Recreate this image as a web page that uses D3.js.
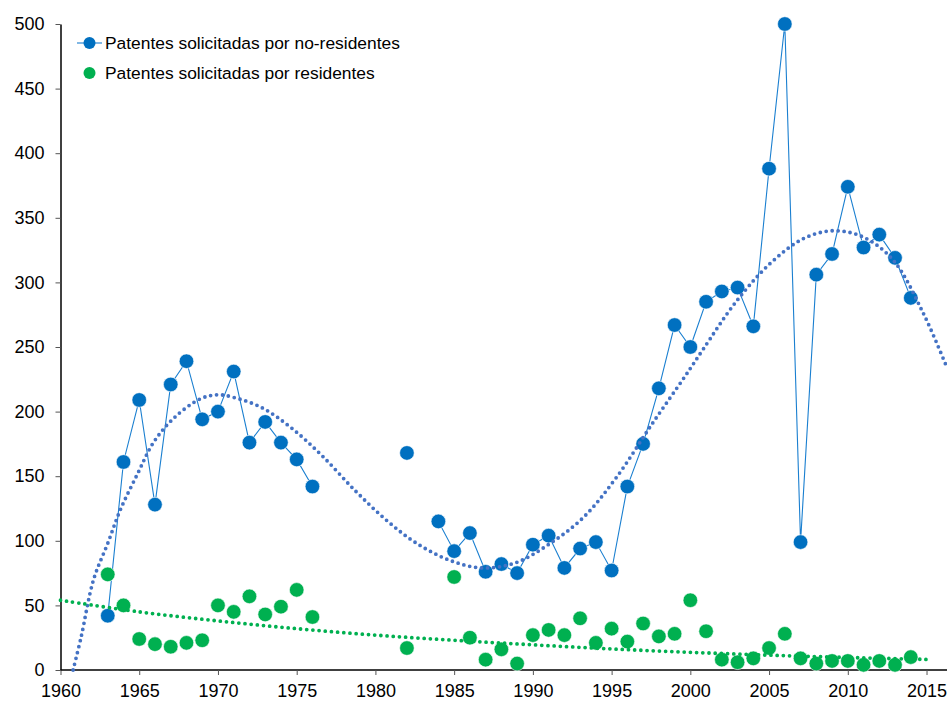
<!DOCTYPE html>
<html>
<head>
<meta charset="utf-8">
<script src="https://cdn.jsdelivr.net/npm/d3@7"></script>
<style>
  body { margin: 0; background: #fff; }
  svg { display: block; font-family: "Liberation Sans", Arial, sans-serif; }
</style>
</head>
<body>
<div id="chart"></div>
<script>
// Data
const years = [1963, 1964, 1965, 1966, 1967, 1968, 1969, 1970, 1971, 1972, 1973, 1974, 1975, 1976,
  1982, 1984, 1985, 1986, 1987, 1988, 1989, 1990, 1991, 1992, 1993, 1994, 1995, 1996, 1997, 1998, 1999,
  2000, 2001, 2002, 2003, 2004, 2005, 2006, 2007, 2008, 2009, 2010, 2011, 2012, 2013, 2014];
const noResidentes = [42, 161, 209, 128, 221, 239, 194, 200, 231, 176, 192, 176, 163, 142,
  168, 115, 92, 106, 76, 82, 75, 97, 104, 79, 94, 99, 77, 142, 175, 218, 267,
  250, 285, 293, 296, 266, 388, 500, 99, 306, 322, 374, 327, 337, 319, 288];

const yearsRes = [1963, 1964, 1965, 1966, 1967, 1968, 1969, 1970, 1971, 1972, 1973, 1974, 1975, 1976,
  1982, 1985, 1986, 1987, 1988, 1989, 1990, 1991, 1992, 1993, 1994, 1995, 1996, 1997, 1998, 1999,
  2000, 2001, 2002, 2003, 2004, 2005, 2006, 2007, 2008, 2009, 2010, 2011, 2012, 2013, 2014];
const residentes = [74, 50, 24, 20, 18, 21, 23, 50, 45, 57, 43, 49, 62, 41,
  17, 72, 25, 8, 16, 5, 27, 31, 27, 40, 21, 32, 22, 36, 26, 28,
  54, 30, 8, 6, 9, 17, 28, 9, 5, 7, 7, 4, 7, 4, 10];

// trend lines
const trendNoResX = [1960.8, 1961.3, 1962.1, 1963.0, 1963.8, 1964.9, 1965.9, 1967.2, 1968.9, 1970, 1971, 1972.8,
  1974.7, 1976.6, 1978.7, 1980.6, 1982.5, 1984.7, 1986.8, 1988.9, 1991.1, 1993.2, 1995.3, 1997.6,
  1999.7, 2000.8, 2002.9, 2005.1, 2007.2, 2009.1, 2011, 2012.9, 2014.8, 2016.3];
const trendNoResY = [0, 25, 70, 98, 124, 152, 176, 195, 210, 213, 211, 203,
  187, 166, 139, 117, 99, 85, 79, 83, 98, 118, 149, 191,
  228, 248, 285, 315, 334, 340, 335, 317, 276, 234];
const trendResX = [1960, 1965, 1970, 1975, 1980, 1985, 1990, 1995, 2000, 2005, 2010, 2015];
const trendResY = [54, 45, 38, 32, 27, 23, 19.5, 16.3, 13.7, 11.5, 9.7, 8.2];

const xTicks = d3.range(1960, 2016, 5);
const yTicks = d3.range(0, 501, 50);

const seriesNames = ["Patentes solicitadas por no-residentes", "Patentes solicitadas por residentes"];
const blue = "#0070c0", green = "#00b050", trendBlue = "#4472c4";

const width = 947, height = 702;

const svg = d3.select("#chart").append("svg")
  .attr("width", width)
  .attr("height", height);

const x = d3.scaleLinear().domain([1960, 2016.3]).range([60.5, 947]);
const y = d3.scaleLinear().domain([0, 500]).range([670, 24]);

// Axes
const gx = svg.append("g")
  .attr("transform", `translate(0,${y(0)})`)
  .call(d3.axisBottom(x).tickValues(xTicks).tickFormat(d3.format("d")).tickSize(5).tickSizeOuter(0));
const gy = svg.append("g")
  .attr("transform", `translate(${x(1960)},0)`)
  .call(d3.axisLeft(y).tickValues(yTicks).tickSize(5).tickSizeOuter(0));

gx.select(".domain").attr("d", `M${x(1960)},0H947`);
svg.selectAll(".domain").attr("stroke", "#000").attr("stroke-width", 1.5);
svg.selectAll(".tick line").attr("stroke", "#555");
svg.selectAll(".tick text").attr("fill", "#000").style("font-size", "18px")
  .style("font-family", "'Liberation Sans', Arial, sans-serif");
gx.selectAll(".tick text").attr("y", 27).attr("dy", 0);
gy.selectAll(".tick text").attr("x", -16);

// no-residentes line, broken where a year is missing
const noRes = years.map((yr, i) => ({ yr, v: noResidentes[i], prev: years[i - 1] }));
const segments = [];
noRes.forEach((d, i) => {
  if (i === 0 || d.yr - d.prev > 1) segments.push([]);
  segments[segments.length - 1].push(d);
});
const line = d3.line().x(d => x(d.yr)).y(d => y(d.v));
svg.append("g").selectAll("path")
  .data(segments.filter(s => s.length > 1))
  .join("path")
  .attr("d", line)
  .attr("fill", "none")
  .attr("stroke", "#1a7fd0")
  .attr("stroke-width", 1.1);

svg.append("g").selectAll("circle")
  .data(noRes)
  .join("circle")
  .attr("cx", d => x(d.yr))
  .attr("cy", d => y(d.v))
  .attr("r", 7.3)
  .attr("fill", blue)
  .attr("stroke", "#fff")
  .attr("stroke-width", 0.6);

svg.append("g").selectAll("circle")
  .data(yearsRes.map((yr, i) => ({ yr, v: residentes[i] })))
  .join("circle")
  .attr("cx", d => x(d.yr))
  .attr("cy", d => y(d.v))
  .attr("r", 7.3)
  .attr("fill", green)
  .attr("stroke", "#fff")
  .attr("stroke-width", 0.6);

// trend lines (dotted)
const trendLine = d3.line().curve(d3.curveCatmullRom).x(d => x(d[0])).y(d => y(d[1]));
svg.append("path")
  .datum(trendNoResX.map((t, i) => [t, trendNoResY[i]]))
  .attr("d", trendLine)
  .attr("fill", "none")
  .attr("stroke", trendBlue)
  .attr("stroke-width", 3.8)
  .attr("stroke-linecap", "round")
  .attr("stroke-dasharray", "0 6");
svg.append("path")
  .datum(trendResX.map((t, i) => [t, trendResY[i]]))
  .attr("d", trendLine)
  .attr("fill", "none")
  .attr("stroke", green)
  .attr("stroke-width", 3.8)
  .attr("stroke-linecap", "round")
  .attr("stroke-dasharray", "0 6.2");

// Legend
const legend = svg.append("g").attr("transform", "translate(77,43)");
legend.append("line").attr("x1", 0).attr("x2", 25).attr("y1", 0).attr("y2", 0)
  .attr("stroke", "#1a7fd0").attr("stroke-width", 1.1);
legend.append("circle").attr("cx", 12.5).attr("cy", 0).attr("r", 6).attr("fill", blue);
legend.append("circle").attr("cx", 12.5).attr("cy", 30).attr("r", 6).attr("fill", green);
legend.selectAll("text")
  .data(seriesNames)
  .join("text")
  .attr("x", 28)
  .attr("y", (d, i) => i * 30)
  .attr("dy", "0.35em")
  .style("font-size", "17.4px")
  .attr("fill", "#000")
  .text(d => d);
</script>
</body>
</html>
